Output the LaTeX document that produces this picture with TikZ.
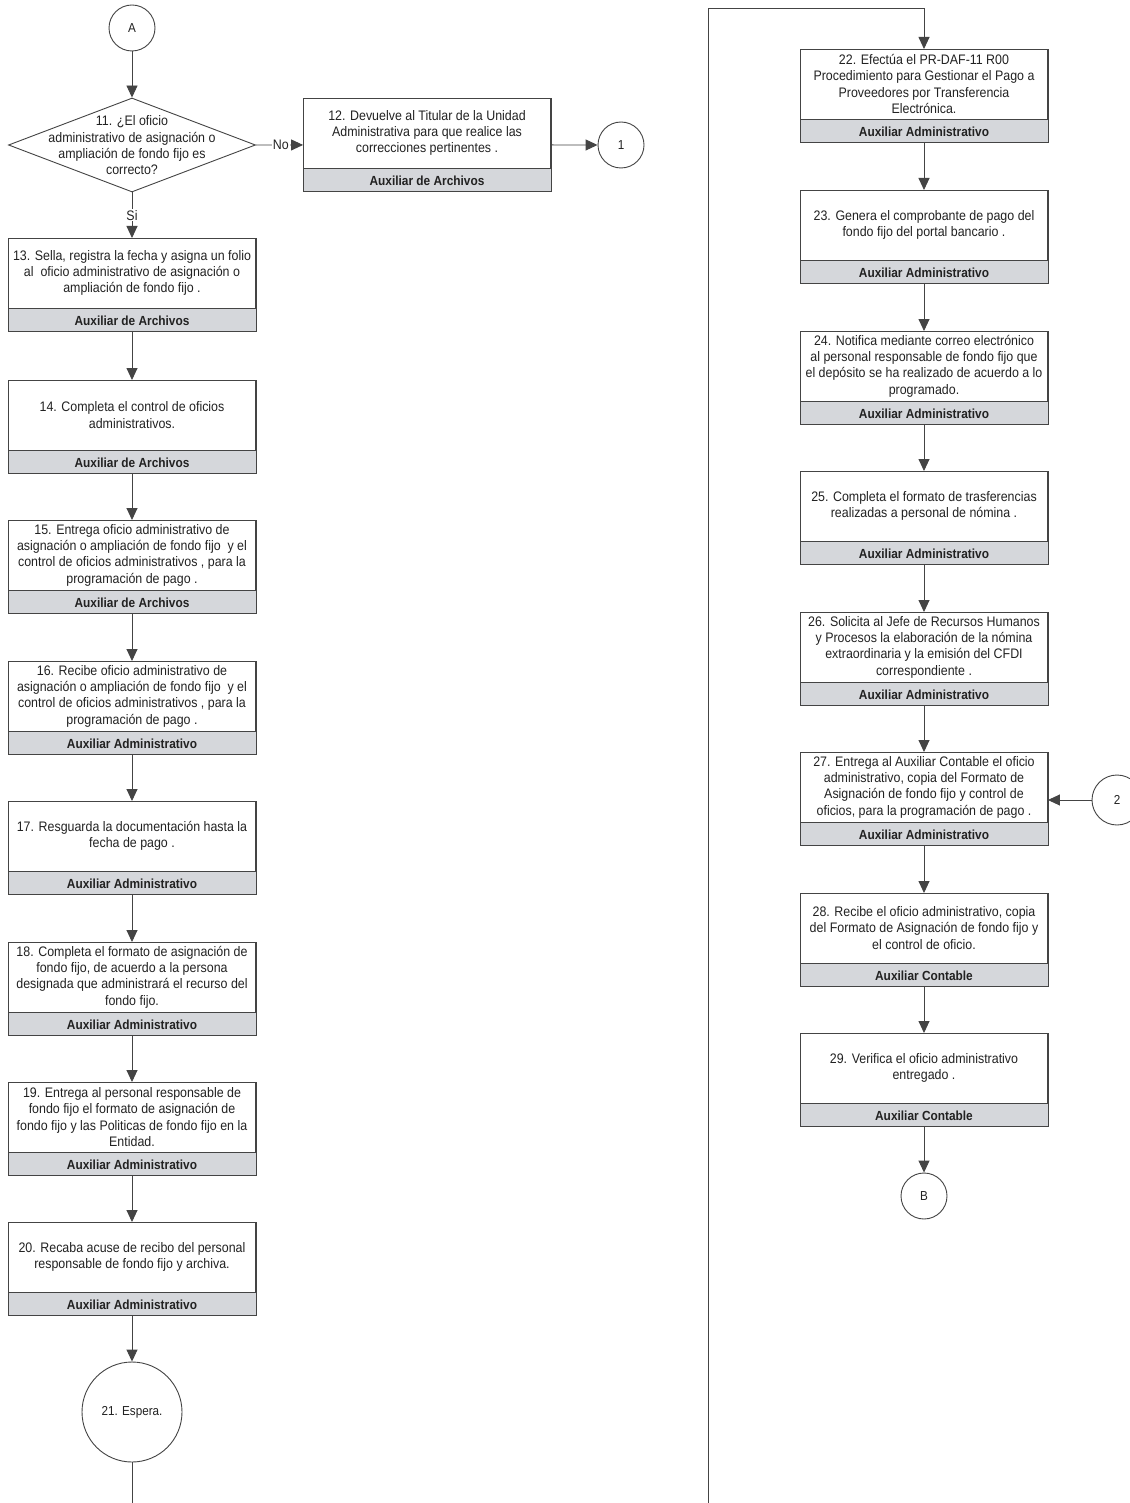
\documentclass[tikz,border=0pt]{standalone}
\usepackage{fontspec}
\setmainfont{Liberation Sans}[FakeStretch=0.9]
\usetikzlibrary{shapes.geometric,arrows.meta,calc}
\definecolor{ln}{HTML}{444444}
\definecolor{bandc}{HTML}{D5D7DB}
\definecolor{txt}{HTML}{222222}
\tikzset{
  flow/.style={draw=ln, line width=0.9pt},
  arr/.style={flow, -{Triangle[length=12pt,width=11pt]}},
  pbox/.style={draw=ln, line width=0.9pt, minimum width=247pt, minimum height=93pt, inner sep=0pt, anchor=north},
  band/.style={fill=bandc, draw=ln, line width=0.9pt},
  ptext/.style={font=\fontsize{13.8}{16.3}\selectfont, align=center, text=txt, inner sep=0pt},
  role/.style={font=\fontsize{13.2}{14}\selectfont\bfseries, text=txt, inner sep=0pt},
  conn/.style={circle, draw=ln, line width=0.9pt, minimum size=46pt, inner sep=0pt, font=\fontsize{13}{14}\selectfont, text=txt},
  lbl/.style={fill=white, inner sep=1pt, font=\fontsize{13.8}{14}\selectfont, text=txt},
}
\newcommand\procbox[5]{%
  \node[pbox] (#1) at (#2,#3) {};
  \draw[band] ([yshift=23pt]#1.south west) rectangle (#1.south east);
  \draw[draw=ln, line width=0.9pt] (#1.south west) rectangle (#1.north east);
  \node[role] at ([yshift=11.5pt]#1.south) {#5};
  \node[ptext] at ([yshift=-35pt]#1.north) {#4};
}
\begin{document}
\begin{tikzpicture}[x=1pt,y=-1pt]
\useasboundingbox[fill=white] (0,0) rectangle (1129,1503);

% left column
\node[conn] (cA) at (132,28) {A};
\node[diamond, draw=ln, line width=0.9pt, minimum width=247pt, minimum height=94pt, inner sep=0pt] (d11) at (132,145) {};
\node[ptext] at (132,145.5) {11. ¿El oficio\\administrativo de asignación o\\ampliación de fondo fijo es\\correcto?};

\procbox{b12}{427}{98}{12. Devuelve al Titular de la Unidad\\Administrativa para que realice las\\correcciones pertinentes .}{Auxiliar de Archivos}
\node[conn] (c1) at (621,145) {1};

\procbox{b13}{132}{238}{13. Sella, registra la fecha y asigna un folio\\al~ oficio administrativo de asignación o\\ampliación de fondo fijo .}{Auxiliar de Archivos}
\procbox{b14}{132}{380}{14. Completa el control de oficios\\administrativos.}{Auxiliar de Archivos}
\procbox{b15}{132}{520}{15. Entrega oficio administrativo de\\asignación o ampliación de fondo fijo~ y el\\control de oficios administrativos , para la\\programación de pago .}{Auxiliar de Archivos}
\procbox{b16}{132}{661}{16. Recibe oficio administrativo de\\asignación o ampliación de fondo fijo~ y el\\control de oficios administrativos , para la\\programación de pago .}{Auxiliar Administrativo}
\procbox{b17}{132}{801}{17. Resguarda la documentación hasta la\\fecha de pago .}{Auxiliar Administrativo}
\procbox{b18}{132}{942}{18. Completa el formato de asignación de\\fondo fijo, de acuerdo a la persona\\designada que administrará el recurso del\\fondo fijo.}{Auxiliar Administrativo}
\procbox{b19}{132}{1082}{19. Entrega al personal responsable de\\fondo fijo el formato de asignación de\\fondo fijo y las Politicas de fondo fijo en la\\Entidad.}{Auxiliar Administrativo}
\procbox{b20}{132}{1222}{20. Recaba acuse de recibo del personal\\responsable de fondo fijo y archiva.}{Auxiliar Administrativo}
\node[conn, minimum size=100pt] (c21) at (132,1412) {21. Espera.};
\coordinate (lbot) at (132,1503);

% right column
\procbox{b22}{924}{49}{22. Efectúa el PR-DAF-11 R00\\Procedimiento para Gestionar el Pago a\\Proveedores por Transferencia\\Electrónica.}{Auxiliar Administrativo}
\procbox{b23}{924}{190}{23. Genera el comprobante de pago del\\fondo fijo del portal bancario .}{Auxiliar Administrativo}
\procbox{b24}{924}{331}{24. Notifica mediante correo electrónico\\al personal responsable de fondo fijo que\\el depósito se ha realizado de acuerdo a lo\\programado.}{Auxiliar Administrativo}
\procbox{b25}{924}{471}{25. Completa el formato de trasferencias\\realizadas a personal de nómina .}{Auxiliar Administrativo}
\procbox{b26}{924}{612}{26. Solicita al Jefe de Recursos Humanos\\y Procesos la elaboración de la nómina\\extraordinaria y la emisión del CFDI\\correspondiente .}{Auxiliar Administrativo}
\procbox{b27}{924}{752}{27. Entrega al Auxiliar Contable el oficio\\administrativo, copia del Formato de\\Asignación de fondo fijo y control de\\oficios, para la programación de pago .}{Auxiliar Administrativo}
\procbox{b28}{924}{893}{28. Recibe el oficio administrativo, copia\\del Formato de Asignación de fondo fijo y\\el control de oficio.}{Auxiliar Contable}
\procbox{b29}{924}{1033}{29. Verifica el oficio administrativo\\entregado .}{Auxiliar Contable}
\node[conn] (cB) at (924,1196) {B};
\node[conn, minimum size=50pt] (c2) at (1117,800) {2};
\coordinate (rbot) at (708,1503);
\coordinate (rtop) at (708,8);

% connectors
\draw[arr] (cA.south) -- (d11.north);
\draw[arr] (d11.south) -- node[lbl] {Si} (b13.north);
\draw[arr] (d11.east) -- node[lbl, pos=0.53] {No} (b12.west);
\draw[arr] (b12.east) -- (c1.west);
\draw[arr] (b13.south) -- (b14.north);
\draw[arr] (b14.south) -- (b15.north);
\draw[arr] (b15.south) -- (b16.north);
\draw[arr] (b16.south) -- (b17.north);
\draw[arr] (b17.south) -- (b18.north);
\draw[arr] (b18.south) -- (b19.north);
\draw[arr] (b19.south) -- (b20.north);
\draw[arr] (b20.south) -- (c21.north);
\draw[flow] (c21.south) -- (lbot);
\draw[arr] (rbot) -- (rtop) -| (b22.north);
\draw[arr] (b22.south) -- (b23.north);
\draw[arr] (b23.south) -- (b24.north);
\draw[arr] (b24.south) -- (b25.north);
\draw[arr] (b25.south) -- (b26.north);
\draw[arr] (b26.south) -- (b27.north);
\draw[arr] (b27.south) -- (b28.north);
\draw[arr] (b28.south) -- (b29.north);
\draw[arr] (b29.south) -- (cB.north);
\draw[arr] (c2.west) -- (b27.east |- c2.west);
\end{tikzpicture}
\end{document}
